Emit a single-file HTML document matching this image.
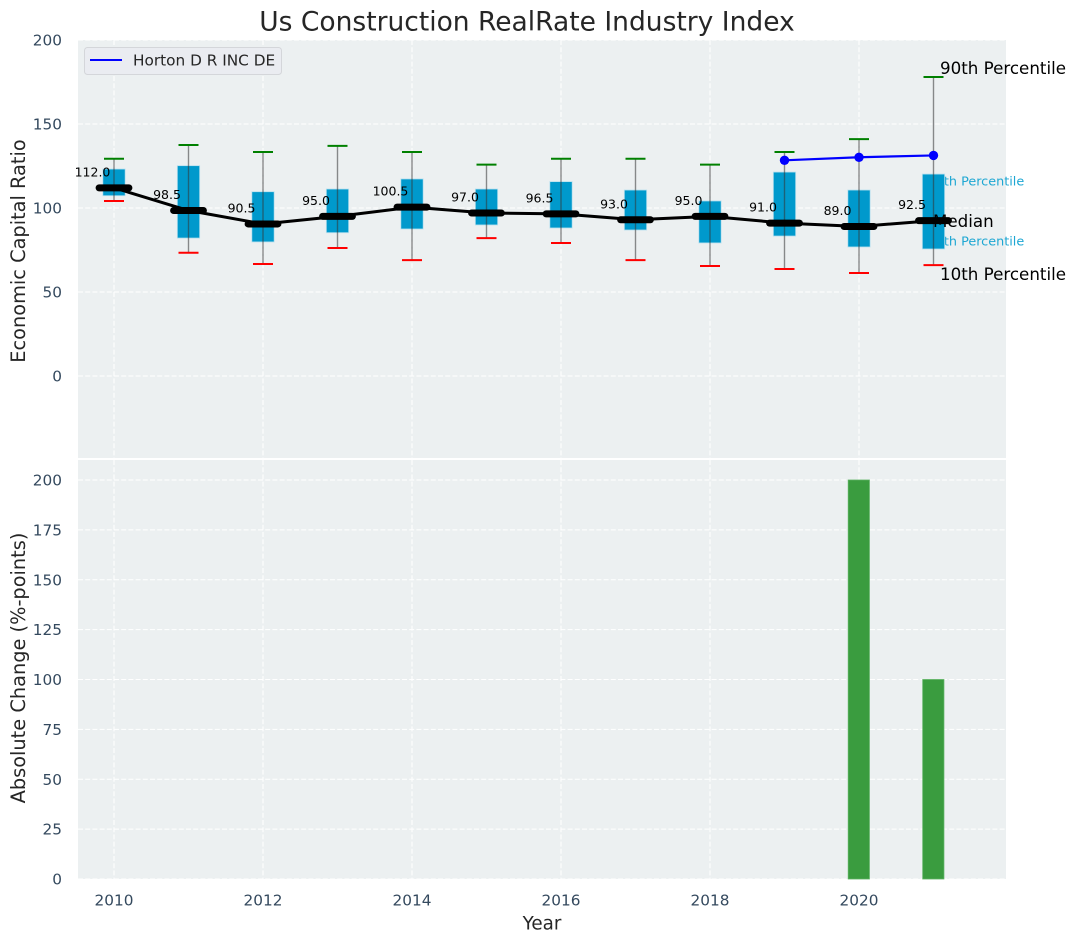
<!DOCTYPE html>
<html lang="en">
<head>
<meta charset="utf-8">
<title>Us Construction RealRate Industry Index</title>
<style>
html,body{margin:0;padding:0;background:#fff;width:1075px;height:942px;overflow:hidden}
svg{display:block;font-family:"DejaVu Sans","Liberation Sans",sans-serif}
</style>
</head>
<body>
<svg id="chart" xmlns="http://www.w3.org/2000/svg" width="1075" height="942" viewBox="0 0 1075 942">
  <rect x="0" y="0" width="1075" height="942" fill="#ffffff"/>
  <text x="527" y="30.5" text-anchor="middle" font-size="26.5px" fill="#262626">Us Construction RealRate Industry Index</text>
  <rect x="78" y="40" width="928" height="418" fill="#ecf0f1"/>
  <rect x="78" y="460" width="928" height="419" fill="#ecf0f1"/>
  <g id="grid"></g>
  <g id="ticks"></g>
  <g id="annotations-under"></g>
  <g id="bars"></g>
  <g id="boxes"></g>
  <g id="lines"></g>
  <g id="annotations-over"></g>
  <text x="25" y="251" text-anchor="middle" font-size="19.35px" fill="#262626" transform="rotate(-90 25 251)">Economic Capital Ratio</text>
  <text x="25" y="668" text-anchor="middle" font-size="19.35px" fill="#262626" transform="rotate(-90 25 668)">Absolute Change (%-points)</text>
  <text x="542" y="929.3" text-anchor="middle" font-size="18.3px" fill="#262626">Year</text>
  <g>
    <rect x="84.5" y="47.5" width="197" height="27" rx="3" fill="#eaecf1" stroke="#d4d6da" stroke-width="1"/>
    <line x1="90" y1="60" x2="122" y2="60" stroke="#0000ff" stroke-width="2"/>
    <text x="133" y="65.5" font-size="15.3px" fill="#262626">Horton D R INC DE</text>
  </g>
</svg>
<script>
const years = [2010, 2011, 2012, 2013, 2014, 2015, 2016, 2017, 2018, 2019, 2020, 2021];
const medianValues = [112.0, 98.5, 90.5, 95.0, 100.5, 97.0, 96.5, 93.0, 95.0, 91.0, 89.0, 92.5];
const p10Values = [104.2, 73.4, 66.7, 76.2, 69, 82.1, 79.2, 69, 65.5, 63.7, 61.3, 66];
const p25Values = [107.3, 82.1, 79.8, 85.3, 87.5, 89.9, 88.1, 86.9, 79.2, 83.3, 76.8, 75.6];
const p75Values = [123.2, 125.2, 109.7, 111.3, 117.3, 111.3, 115.7, 110.7, 104.2, 121.4, 110.7, 120.2];
const p90Values = [129.3, 137.5, 133.3, 137, 133.3, 125.8, 129.3, 129.3, 125.8, 133.3, 141, 178];
const companyYears = [2019, 2020, 2021];
const companyValues = [128.4, 130.2, 131.3];
const changeValues = [0, 0, 0, 0, 0, 0, 0, 0, 0, 0, 200, 100];
const xTickLabels = [2010, 2012, 2014, 2016, 2018, 2020];
const topYTickLabels = [0, 50, 100, 150, 200];
const bottomYTickLabels = [0, 25, 50, 75, 100, 125, 150, 175, 200];

const NS = 'http://www.w3.org/2000/svg';
const xScale = function (year) { return 114 + (year - 2010) * 74.5; };
const yTop = function (value) { return 376 - value * 1.68; };
const yBottom = function (value) { return 879 - value * 1.995; };
const yearWidth = function (span) { return span * 74.5; };

function shape(parent, tag, attrs, text) {
  const el = document.createElementNS(NS, tag);
  Object.keys(attrs).forEach(function (key) { el.setAttribute(key, attrs[key]); });
  if (text !== undefined) { el.textContent = text; }
  document.getElementById(parent).appendChild(el);
  return el;
}

xTickLabels.forEach(function (year) {
  const gridTop = shape('grid', 'line', {x1: xScale(year), x2: xScale(year), y1: 40, y2: 458, stroke: '#ffffff', 'stroke-width': 1, 'stroke-dasharray': '5 2.2'});
  
  
  const gridBottom = shape('grid', 'line', {x1: xScale(year), x2: xScale(year), y1: 460, y2: 879, stroke: '#ffffff', 'stroke-width': 1, 'stroke-dasharray': '5 2.2'});
  
  
  const label = shape('ticks', 'text', {x: xScale(year), y: 905.5, 'text-anchor': 'middle', 'font-size': '15.3px', fill: '#34495e'}, String(year));
  
  
});

topYTickLabels.forEach(function (value) {
  const grid = shape('grid', 'line', {x1: 78, x2: 1006, y1: yTop(value), y2: yTop(value), stroke: '#ffffff', 'stroke-width': 1, 'stroke-dasharray': '5 2.2'});
  
  
  const label = shape('ticks', 'text', {x: 62, y: yTop(value) + 5.6, 'text-anchor': 'end', 'font-size': '15.3px', fill: '#34495e'}, String(value));
  
  
});

bottomYTickLabels.forEach(function (value) {
  const grid = shape('grid', 'line', {x1: 78, x2: 1006, y1: yBottom(value), y2: yBottom(value), stroke: '#ffffff', 'stroke-width': 1, 'stroke-dasharray': '5 2.2'});
  
  
  const label = shape('ticks', 'text', {x: 62, y: yBottom(value) + 5.6, 'text-anchor': 'end', 'font-size': '15.3px', fill: '#34495e'}, String(value));
  
  
});

const under75 = shape('annotations-under', 'text', {x: 927.6, y: 185.5, 'font-size': '12.8px', fill: '#1ea7d3'}, '75th Percentile');


const under25 = shape('annotations-under', 'text', {x: 927.6, y: 245.5, 'font-size': '12.8px', fill: '#1ea7d3'}, '25th Percentile');



years.forEach(function (year, i) {
  if (changeValues[i] > 0) {
    const bar = shape('bars', 'rect', {x: xScale(year) - yearWidth(0.145), y: yBottom(changeValues[i]), width: yearWidth(0.285), height: yBottom(0) - yBottom(changeValues[i]), fill: '#3a9c3f', stroke: '#5cb261', 'stroke-width': 0.8});
    
    
  }

  const box = shape('boxes', 'rect', {x: xScale(year) - yearWidth(0.15), y: yTop(p75Values[i]), width: yearWidth(0.3), height: yTop(p25Values[i]) - yTop(p75Values[i]), fill: '#0099cc', stroke: '#b8e0ee', 'stroke-width': 0.8});
  
  

  const whisker = shape('boxes', 'line', {x1: xScale(year), x2: xScale(year), y1: yTop(p90Values[i]), y2: yTop(p10Values[i]), stroke: '#333333', 'stroke-opacity': 0.55, 'stroke-width': 1.4});
  
  

  const capHigh = shape('boxes', 'line', {x1: xScale(year) - 10, x2: xScale(year) + 10, y1: yTop(p90Values[i]), y2: yTop(p90Values[i]), stroke: '#008000', 'stroke-width': 2});
  
  

  const capLow = shape('boxes', 'line', {x1: xScale(year) - 10, x2: xScale(year) + 10, y1: yTop(p10Values[i]), y2: yTop(p10Values[i]), stroke: '#ff0000', 'stroke-width': 2});
  
  
});

const medianPoints = years.map(function (year, i) { return xScale(year) + ',' + yTop(medianValues[i]); }).join(' ');
const medianLine = shape('lines', 'polyline', {points: medianPoints, fill: 'none', stroke: '#000000', 'stroke-width': 3, 'stroke-linejoin': 'round'});



years.forEach(function (year, i) {
  const tick = shape('lines', 'line', {x1: xScale(year) - yearWidth(0.2), x2: xScale(year) + yearWidth(0.2), y1: yTop(medianValues[i]), y2: yTop(medianValues[i]), stroke: '#000000', 'stroke-width': 7, 'stroke-linecap': 'round'});
  
  

  const value = shape('lines', 'text', {x: xScale(year) - 21.5, y: yTop(medianValues[i]) - 11.5, 'text-anchor': 'middle', 'font-size': '12.5px', fill: '#000000'}, medianValues[i].toFixed(1));
  
  
});

const companyPoints = companyYears.map(function (year, i) { return xScale(year) + ',' + yTop(companyValues[i]); }).join(' ');
const companyLine = shape('lines', 'polyline', {points: companyPoints, fill: 'none', stroke: '#0000ff', 'stroke-width': 2.2});



companyYears.forEach(function (year, i) {
  const dot = shape('lines', 'circle', {cx: xScale(year), cy: yTop(companyValues[i]), r: 4.7, fill: '#0000ff'});
  
  
});

const note90 = shape('annotations-over', 'text', {x: 940, y: 74, 'font-size': '16.7px', fill: '#000000'}, '90th Percentile');


const noteMedian = shape('annotations-over', 'text', {x: 933, y: 227, 'font-size': '16.7px', fill: '#000000'}, 'Median');


const note10 = shape('annotations-over', 'text', {x: 940, y: 280, 'font-size': '16.7px', fill: '#000000'}, '10th Percentile');


</script>
</body>
</html>
